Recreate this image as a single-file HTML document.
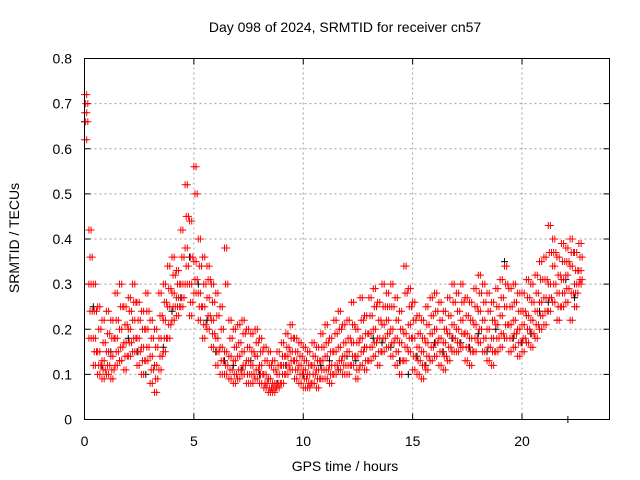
<!DOCTYPE html>
<html><head><meta charset="utf-8"><style>
html,body{margin:0;padding:0;background:#fff;}
svg{display:block;font-family:"Liberation Sans",sans-serif;}
</style></head><body>
<svg id="chart" width="640" height="480">
<rect width="640" height="480" fill="#fff"/>
<text x="345" y="32" text-anchor="middle" font-size="14">Day 098 of 2024, SRMTID for receiver cn57</text>
<text transform="translate(19,238) rotate(-90)" text-anchor="middle" font-size="14">SRMTID / TECUs</text>
<text x="345" y="471" text-anchor="middle" font-size="14">GPS time / hours</text>
<g id="grid"></g>
<g id="ticks"></g>
<g id="black"></g>
<g id="red"></g>
<rect x="84.5" y="58.5" width="525" height="361" fill="none" stroke="#000"/>
</svg>
<script>
const xTicks=[0,5,10,15,20];
const yTicks=[0,0.1,0.2,0.3,0.4,0.5,0.6,0.7,0.8];
const yTickLabels=["0","0.1","0.2","0.3","0.4","0.5","0.6","0.7","0.8"];
const redStep=0.2;
const redMid=[.68,.30,.18,.15,.13,.15,.14,.18,.20,.17,.20,.22,.18,.16,.20,.14,.12,.18,.22,.25,.28,.27,.30,.38,.30,.35,.28,.25,.27,.22,.18,.16,.15,.14,.13,.14,.15,.13,.12,.14,.12,.10,.09,.08,.10,.12,.14,.15,.13,.12,.11,.10,.12,.11,.13,.14,.12,.15,.16,.14,.15,.17,.14,.18,.16,.19,.20,.18,.21,.22,.20,.18,.17,.19,.21,.18,.16,.15,.17,.19,.20,.18,.17,.19,.21,.20,.22,.19,.18,.21,.24,.22,.20,.18,.21,.23,.25,.21,.22,.20,.21,.23,.22,.24,.26,.27,.30,.34,.28,.31,.32,.34,.30,.33];
const redHigh=[.72,.42,.30,.25,.22,.24,.22,.28,.30,.25,.27,.30,.26,.24,.28,.22,.20,.28,.30,.34,.36,.33,.42,.52,.44,.56,.40,.36,.34,.30,.28,.25,.38,.22,.20,.21,.22,.20,.19,.20,.18,.16,.15,.13,.15,.17,.19,.21,.18,.17,.16,.15,.17,.16,.19,.21,.18,.22,.24,.21,.22,.26,.20,.27,.23,.27,.29,.26,.30,.28,.30,.27,.24,.34,.29,.26,.23,.22,.25,.27,.28,.26,.24,.27,.30,.28,.30,.27,.26,.29,.32,.30,.28,.26,.29,.31,.34,.29,.30,.28,.28,.31,.30,.32,.35,.36,.43,.40,.36,.39,.38,.40,.37,.39];
const redLow=[.62,.18,.12,.10,.09,.10,.09,.12,.13,.11,.14,.15,.12,.10,.13,.08,.06,.11,.15,.18,.22,.23,.25,.30,.23,.28,.22,.18,.20,.16,.12,.10,.10,.09,.08,.09,.10,.08,.08,.09,.08,.07,.06,.06,.07,.08,.10,.11,.09,.08,.07,.07,.08,.07,.09,.09,.08,.10,.11,.10,.10,.12,.09,.12,.11,.13,.14,.12,.15,.16,.14,.12,.10,.13,.15,.11,.10,.09,.11,.13,.14,.12,.11,.13,.15,.15,.16,.13,.12,.15,.17,.15,.13,.12,.15,.16,.18,.15,.16,.14,.15,.17,.16,.18,.20,.21,.24,.26,.22,.25,.26,.22,.25,.30];
const redQ1=[.70,.36,.24,.20,.17,.19,.18,.22,.25,.21,.24,.26,.22,.20,.24,.18,.16,.23,.26,.29,.32,.30,.36,.45,.36,.50,.34,.30,.31,.26,.23,.20,.30,.18,.16,.17,.19,.16,.15,.17,.15,.13,.12,.11,.12,.14,.16,.18,.15,.14,.13,.12,.14,.13,.16,.17,.15,.19,.20,.17,.18,.21,.17,.22,.19,.23,.25,.22,.25,.25,.25,.22,.20,.28,.25,.22,.19,.18,.21,.23,.24,.22,.20,.23,.26,.24,.26,.23,.22,.25,.28,.26,.24,.22,.25,.27,.30,.25,.26,.24,.24,.27,.26,.28,.31,.31,.37,.37,.32,.35,.35,.37,.33,.36];
const redQ2=[.66,.24,.15,.12,.11,.12,.11,.15,.16,.14,.17,.18,.15,.13,.16,.11,.09,.14,.18,.21,.25,.25,.27,.34,.26,.31,.25,.21,.23,.19,.15,.13,.12,.11,.10,.11,.12,.10,.10,.11,.10,.08,.07,.07,.08,.10,.12,.13,.11,.10,.09,.08,.10,.09,.11,.11,.10,.12,.13,.12,.12,.14,.11,.15,.13,.16,.17,.15,.18,.19,.17,.15,.13,.16,.18,.14,.13,.12,.14,.16,.17,.15,.14,.16,.18,.17,.19,.16,.15,.18,.20,.18,.16,.15,.18,.19,.21,.18,.19,.17,.18,.20,.19,.21,.23,.24,.27,.30,.25,.28,.29,.28,.28,.31];
const blackTimes=[0,.4,.8,1.2,1.6,2.0,2.4,2.8,3.2,3.6,4.0,4.4,4.8,5.2,5.6,6.0,6.4,6.8,7.2,7.6,8.0,8.4,8.8,9.2,9.6,10.0,10.4,10.8,11.2,11.6,12.0,12.4,12.8,13.2,13.6,14.0,14.4,14.8,15.2,15.6,16.0,16.4,16.8,17.2,17.6,18.0,18.4,18.8,19.2,19.6,20.0,20.4,20.8,21.2,21.6,22.0,22.4,22.1];
const blackValues=[.66,.25,.12,.15,.13,.18,.15,.10,.12,.16,.24,.27,.36,.30,.22,.15,.13,.12,.11,.13,.10,.09,.08,.12,.13,.10,.08,.12,.13,.11,.14,.13,.16,.18,.17,.16,.13,.10,.14,.12,.17,.15,.18,.17,.16,.19,.15,.20,.35,.18,.17,.19,.24,.26,.22,.31,.27,0];
const NS="http://www.w3.org/2000/svg";
const X0=84.5,X1=609.5,Y0=419.5,Y1=58.5;
function sx(t){return X0+(t/24)*(X1-X0);}
function sy(v){return Y0-(v/0.8)*(Y0-Y1);}
const grid=document.getElementById('grid'),ticks=document.getElementById('ticks');
function line(g,x1,y1,x2,y2,st,dash){const l=document.createElementNS(NS,'line');l.setAttribute('x1',x1);l.setAttribute('y1',y1);l.setAttribute('x2',x2);l.setAttribute('y2',y2);l.setAttribute('stroke',st);if(dash)l.setAttribute('stroke-dasharray',dash);g.appendChild(l);return l;}
function txt(g,x,y,s,anchor){const t=document.createElementNS(NS,'text');t.setAttribute('x',x);t.setAttribute('y',y);t.setAttribute('font-size','14');t.setAttribute('text-anchor',anchor);t.textContent=s;g.appendChild(t);return t;}
xTicks.forEach(v=>{
 if(v>0){const g=line(grid,sx(v),Y0,sx(v),Y1,'#a0a0a0','2,3');}
 line(ticks,sx(v),Y0,sx(v),Y0-6,'#000');line(ticks,sx(v),Y1,sx(v),Y1+6,'#000');
 const t=txt(ticks,sx(v),446,String(v),'middle');
 
 
});
yTicks.forEach((v,i)=>{
 if(v>0&&v<0.8){const g=line(grid,X0,sy(v),X1,sy(v),'#a0a0a0','2,3');}
 line(ticks,X0,sy(v),X0+6,sy(v),'#000');line(ticks,X1,sy(v),X1-6,sy(v),'#000');
 const t=txt(ticks,72,sy(v)+5,yTickLabels[i],'end');
 
 
});
function markers(gid,times,vals,color,name,off){
 const g=document.getElementById(gid);let d='';
 for(let i=0;i<vals.length;i++){const x=sx(times[i]+off),y=sy(vals[i]);d+=`M${(x-3.5).toFixed(1)} ${y.toFixed(1)}h7M${x.toFixed(1)} ${(y-3.5).toFixed(1)}v7`;}
 const p=document.createElementNS(NS,'path');p.setAttribute('d',d);p.setAttribute('stroke',color);p.setAttribute('fill','none');p.setAttribute('stroke-width','1');
 
 
 g.appendChild(p);
}
const redTimes=redMid.map((_,i)=>i*redStep);
markers('black',blackTimes,blackValues,'#000','black-markers',0);
markers('red',redTimes,redMid,'#f00','red-markers-mid',0);
markers('red',redTimes,redMid,'#f00','red-markers-mid-b',0.1);
markers('red',redTimes,redHigh,'#f00','red-markers-high',0.1);
markers('red',redTimes,redHigh,'#f00','red-markers-high-b',0);
markers('red',redTimes,redLow,'#f00','red-markers-low',0);
markers('red',redTimes,redLow,'#f00','red-markers-low-b',0.1);
markers('red',redTimes,redQ1,'#f00','red-markers-q1',0.05);
markers('red',redTimes,redQ1,'#f00','red-markers-q1-b',0.15);
markers('red',redTimes,redQ2,'#f00','red-markers-q2',0.15);
markers('red',redTimes,redQ2,'#f00','red-markers-q2-b',0.05);
</script>
</body></html>
